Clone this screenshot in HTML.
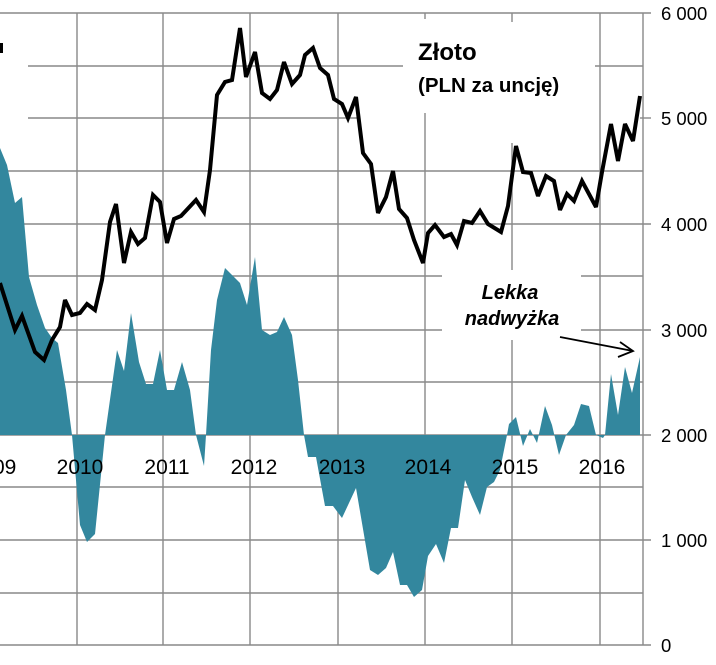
<!DOCTYPE html>
<html><head><meta charset="utf-8"><style>
body{margin:0;background:#fff}
svg{display:block}
text{font-family:"Liberation Sans",sans-serif;fill:#000}
</style></head><body>
<svg width="716" height="665" viewBox="0 0 716 665" xmlns="http://www.w3.org/2000/svg">
<g stroke="#898989" stroke-width="1.4" fill="none">
<line x1="0" y1="13" x2="651" y2="13"/>
<line x1="28" y1="66" x2="403" y2="66"/><line x1="595" y1="66" x2="643" y2="66"/>
<line x1="28" y1="118" x2="360" y2="118"/><line x1="640" y1="118" x2="651" y2="118"/>
<line x1="0" y1="171" x2="643" y2="171"/>
<line x1="0" y1="224" x2="651" y2="224"/>
<line x1="0" y1="276" x2="442" y2="276"/><line x1="581" y1="276" x2="643" y2="276"/>
<line x1="0" y1="330" x2="442" y2="330"/><line x1="581" y1="330" x2="651" y2="330"/>
<line x1="0" y1="382" x2="643" y2="382"/>
<line x1="0" y1="435" x2="651" y2="435"/>
<line x1="0" y1="487" x2="643" y2="487"/>
<line x1="0" y1="540" x2="651" y2="540"/>
<line x1="0" y1="593" x2="643" y2="593"/>
<line x1="0" y1="645" x2="651" y2="645"/>
<line x1="77" y1="13" x2="77" y2="645"/>
<line x1="163" y1="13" x2="163" y2="645"/>
<line x1="250" y1="13" x2="250" y2="645"/>
<line x1="338" y1="13" x2="338" y2="645"/>
<line x1="425" y1="13" x2="425" y2="19"/><line x1="425" y1="113" x2="425" y2="645"/>
<line x1="512" y1="13" x2="512" y2="22"/><line x1="512" y1="143" x2="512" y2="270"/><line x1="512" y1="340" x2="512" y2="645"/>
<line x1="600" y1="13" x2="600" y2="645"/>
<line x1="643" y1="13" x2="643" y2="645"/>
</g>
<polygon fill="#33879e" points="0,435 0,148 7,165 15,203 22,197 29,277 37,305 45,328 52,338 58,343 66,390 72,435 80,525 87,542 95,534 105,435 117,350 124,371 131,313 139,362 146,384 153,384 160,350 167,390 174,390 182,362 190,390 196,435 204,466 206,435 211,350 217,300 225,268 240,283 247,305 255,257 262,330 270,335 277,332 284,317 292,335 298,380 304,435 308,457 316,457 325,506 333,506 342,518 356,488 370,570 378,575 386,568 393,552 400,585 407,585 414,597 422,590 428,556 436,544 444,563 451,528 458,528 465,480 472,497 480,515 487,487 494,482 500,470 507,435 509,424 516,417 523,446 530,429 537,443 545,406 552,425 559,455 566,435 574,425 581,404 589,406 596,435 603,438 605,435 611,374 618,415 625,367 632,393 640,357 640,435"/>
<polyline fill="none" stroke="#000" stroke-width="4" stroke-linejoin="miter" stroke-miterlimit="3" points="0,283 15,330 22,316 35,352 44,360 52,340 60,327 65,300 72,315 80,313 87,304 95,310 102,280 110,222 116,204 124,263 131,232 138,244 145,238 153,195 160,202 167,243 174,219 181,216 196,200 204,212 210,170 217,95 225,82 232,80 240,28 246,77 255,52 262,93 270,99 277,90 284,62 292,84 300,75 305,55 313,48 320,68 328,75 334,99 342,104 348,118 356,97 363,153 371,164 378,213 386,197 393,171 399,209 407,218 414,240 423,263 428,233 435,225 444,237 451,234 457,245 464,221 472,223 480,211 488,224 501,232 508,206 516,146 523,172 531,173 538,196 546,176 554,181 560,210 567,194 574,201 582,181 596,207 602,172 611,124 618,161 625,124 633,141 640,96"/>
<rect x="0" y="43" width="3" height="10" fill="#000"/>
<g font-size="21" text-anchor="middle">
<text x="-7" y="474">2009</text>
<text x="80" y="474">2010</text>
<text x="167" y="474">2011</text>
<text x="254" y="474">2012</text>
<text x="342" y="474">2013</text>
<text x="428" y="474">2014</text>
<text x="515" y="474">2015</text>
<text x="602" y="474">2016</text>
</g>
<g font-size="18.5" text-anchor="start">
<text x="661" y="20">6 000</text>
<text x="661" y="125">5 000</text>
<text x="661" y="231">4 000</text>
<text x="661" y="337">3 000</text>
<text x="661" y="442">2 000</text>
<text x="661" y="547">1 000</text>
<text x="661" y="652">0</text>
</g>
<text x="418" y="60" font-size="24" font-weight="bold">Złoto</text>
<text x="418" y="92" font-size="20.5" font-weight="bold">(PLN za uncję)</text>
<g font-size="20" font-weight="bold" font-style="italic" text-anchor="middle">
<text x="510" y="299">Lekka</text>
<text x="512" y="325">nadwyżka</text>
</g>
<g stroke="#000" stroke-width="1.8" fill="none">
<line x1="560" y1="337" x2="633" y2="351"/>
<polyline points="620,342 633,351 618,357"/>
</g>
</svg>
</body></html>
